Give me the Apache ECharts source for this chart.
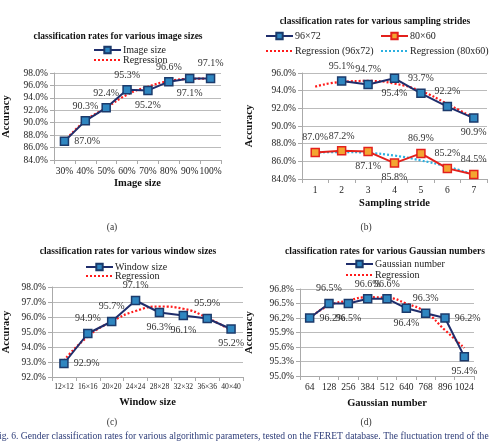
<!DOCTYPE html>
<html>
<head>
<meta charset="utf-8">
<script src="https://cdn.jsdelivr.net/npm/echarts@6/dist/echarts.min.js"></script>
<style>
  html, body { margin: 0; padding: 0; background: #fff; }
</style>
</head>
<body>
<div id="fig6" style="width: 491px; height: 441px"></div>
<script>
// (a) image size
var sizeCats = ['30%', '40%', '50%', '60%', '70%', '80%', '90%', '100%'];
var sizeVals = [87.0, 90.3, 92.4, 95.3, 95.2, 96.6, 97.1, 97.1];
var sizeReg = [87.0, 90.3, 92.4, 94.5, 95.8, 96.7, 97.05, 97.1];
var sizeTicks = [84, 98, 2];

// (b) sampling stride
var strideCats = ['1', '2', '3', '4', '5', '6', '7'];
var stride96 = [null, 95.1, 94.7, 95.4, 93.7, 92.2, 90.9];
var stride80 = [87.0, 87.2, 87.1, 85.8, 86.9, 85.2, 84.5];
var stride96Reg = [94.45, 95.0, 95.1, 94.8, 93.95, 92.5, 90.9];
var stride80Reg = [87.0, 87.05, 86.95, 86.65, 86.1, 85.4, 84.5];
var strideTicks = [84, 96, 2];

// (c) window size
var winCats = ['12×12', '16×16', '20×20', '24×24', '28×28', '32×32', '36×36', '40×40'];
var winVals = [92.9, 94.9, 95.7, 97.1, 96.3, 96.1, 95.9, 95.2];
var winReg = [93.1, 94.7, 95.7, 96.4, 96.7, 96.55, 95.95, 95.1];
var winTicks = [92, 98, 1];

// (d) gaussian number
var gaussCats = ['64', '128', '256', '384', '512', '640', '768', '896', '1024'];
var gaussVals = [96.2, 96.5, 96.5, 96.6, 96.6, 96.4, 96.3, 96.2, 95.4];
var gaussReg = [96.2, 96.46, 96.56, 96.63, 96.62, 96.5, 96.32, 95.95, 95.58];
var gaussTicks = [95.0, 96.8, 0.3];

var serif = '"Liberation Serif", "DejaVu Serif", serif';
var navy = '#1f2d6b';
var red = '#ff1a1a';

var myChart = echarts.init(document.getElementById('fig6'));

// label placement per point: [position, dx, dy]
function labelled (vals, places) {
  return vals.map(function (v, i) {
    if (v == null) return v;
    var p = places[i] || ['top', 0, 0];
    return {
      value: v,
      label: { show: true, position: p[0], offset: [p[1], p[2]] }
    };
  });
}

var blueMark = {
  type: 'line',
  symbol: 'rect',
  symbolSize: 8,
  lineStyle: { color: navy, width: 2 },
  itemStyle: { color: '#2f86c0', borderColor: '#1b3a6b', borderWidth: 1.5 },
  label: {
    formatter: function (p) { return p.value.toFixed(1) + '%'; },
    fontFamily: serif, fontSize: 10, color: '#333'
  },
  labelLayout: { hideOverlap: false },
  z: 3
};

function markSeries (extra) {
  return Object.assign({}, blueMark, extra);
}

function regSeries (name, data, idx, color) {
  return {
    name: name,
    type: 'line',
    smooth: true,
    symbol: 'none',
    data: data,
    xAxisIndex: idx,
    yAxisIndex: idx,
    lineStyle: { color: color || red, width: 2.2, type: [2, 2] },
    itemStyle: { color: color || red },
    z: 2
  };
}

function xAx (idx, cats, name, gap, fs) {
  return {
    gridIndex: idx,
    type: 'category',
    data: cats,
    name: name,
    nameLocation: 'middle',
    nameGap: gap,
    nameTextStyle: { fontFamily: serif, fontWeight: 'bold', fontSize: 10.5, color: '#111' },
    axisLine: { lineStyle: { color: '#aaa' } },
    axisTick: { show: true, length: 4, lineStyle: { color: '#aaa' } },
    axisLabel: { fontFamily: serif, fontSize: fs || 9.5, color: '#222', margin: 6, interval: 0 }
  };
}

function yAx (idx, t, gap) {
  return {
    gridIndex: idx,
    type: 'value',
    min: t[0],
    max: t[1],
    interval: t[2],
    name: 'Accuracy',
    nameLocation: 'middle',
    nameGap: gap,
    nameRotate: 90,
    nameTextStyle: { fontFamily: serif, fontWeight: 'bold', fontSize: 10.5, color: '#111' },
    axisLine: { show: true, lineStyle: { color: '#aaa' } },
    axisTick: { show: true, length: 4, lineStyle: { color: '#aaa' } },
    splitLine: { lineStyle: { color: '#bbb' } },
    axisLabel: {
      fontFamily: serif, fontSize: 9.5, color: '#222', margin: 6,
      formatter: function (v) { return v.toFixed(1) + '%'; }
    }
  };
}

function legendAt (name, left, top, plain) {
  var item = plain ? { name: name, itemStyle: { opacity: 0 } } : name;
  return {
    data: [item],
    left: left,
    top: top,
    itemWidth: 27,
    itemHeight: 8,
    itemGap: 2,
    padding: 0,
    selectedMode: false,
    textStyle: { fontFamily: serif, fontSize: 10, color: '#222', padding: [0, 0, 0, -3] }
  };
}

function gText (text, x, y, size, bold, fill, align) {
  return {
    type: 'text',
    x: x,
    y: y,
    style: {
      text: text,
      font: (bold ? 'bold ' : '') + size + 'px ' + serif,
      fill: fill || '#111',
      textAlign: align || 'center',
      textVerticalAlign: 'middle'
    }
  };
}

var option = {
  backgroundColor: '#fff',
  animation: false,
  textStyle: { fontFamily: serif },
  graphic: [
    gText('classification rates for various image sizes', 118, 37, 9.5, true),
    gText('classification rates for various sampling strides', 375, 22, 9.5, true),
    gText('classification rates for various window sizes', 128, 252, 9.5, true),
    gText('classification rates for various Gaussian numbers', 385, 252, 9.5, true),
    gText('(a)', 112, 227, 9.5, false, '#333'),
    gText('(b)', 366, 227, 9.5, false, '#333'),
    gText('(c)', 112, 422, 9.5, false, '#333'),
    gText('(d)', 366, 422, 9.5, false, '#333'),
    gText('ig. 6. Gender classification rates for various algorithmic parameters, tested on the FERET database. The fluctuation trend of the',
      -1, 436, 9.6, false, '#2d3c78', 'left')
  ],
  legend: [
    legendAt('Image size', 93, 45),
    legendAt('Regression', 93, 55, true),
    legendAt('96×72', 265, 31),
    legendAt('80×60', 380, 31),
    legendAt('Regression (96x72)', 265, 46, true),
    legendAt('Regression (80x60)', 380, 46, true),
    legendAt('Window size', 85, 262),
    legendAt('Regression', 85, 271, true),
    legendAt('Gaussian number', 345, 259),
    legendAt('Regression', 345, 270, true)
  ],
  grid: [
    { left: 52, top: 73, width: 169, height: 87 },
    { left: 302, top: 73, width: 185, height: 106 },
    { left: 43, top: 287, width: 200, height: 90 },
    { left: 300, top: 289, width: 174, height: 87 }
  ],
  xAxis: [
    xAx(0, sizeCats, 'Image size', 18),
    xAx(1, strideCats, 'Sampling stride', 19),
    xAx(2, winCats, 'Window size', 20, 7.6),
    xAx(3, gaussCats, 'Gaussian number', 22)
  ],
  yAxis: [
    yAx(0, sizeTicks, 42),
    yAx(1, strideTicks, 47),
    yAx(2, winTicks, 40),
    yAx(3, gaussTicks, 45)
  ],
  series: [
    regSeries('Regression', sizeReg, 0),
    markSeries({
      name: 'Image size', xAxisIndex: 0, yAxisIndex: 0,
      data: labelled(sizeVals, [
        ['right', -2, 6], ['top', -8, 3], ['top', -8, 0], ['top', 0, 0],
        ['bottom', 4, 2], ['top', -2, 0], ['bottom', 5, 2], ['top', 3, 0]
      ])
    }),

    regSeries('Regression (96x72)', stride96Reg, 1),
    regSeries('Regression (80x60)', stride80Reg, 1, '#2bb0e0'),
    markSeries({
      name: '96×72', xAxisIndex: 1, yAxisIndex: 1,
      data: labelled(stride96, [
        null, ['top', 0, 0], ['top', 0, 0], ['bottom', -2, -2],
        ['top', 4, 0], ['top', 5, 0], ['bottom', 2, 0]
      ])
    }),
    markSeries({
      name: '80×60', xAxisIndex: 1, yAxisIndex: 1,
      lineStyle: { color: '#e3201c', width: 2 },
      itemStyle: { color: '#f3a531', borderColor: '#e3201c', borderWidth: 1.5 },
      data: labelled(stride80, [
        ['top', 0, 0], ['top', 0, 0], ['bottom', 0, 0], ['bottom', 0, 0],
        ['top', 0, 0], ['top', 0, 0], ['top', -3, 0]
      ])
    }),

    regSeries('Regression', winReg, 2),
    markSeries({
      name: 'Window size', xAxisIndex: 2, yAxisIndex: 2,
      data: labelled(winVals, [
        ['right', 2, 0], ['top', -4, 0], ['top', -6, 0], ['top', 2, 0],
        ['bottom', 0, 0], ['bottom', 2, 0], ['top', 7, 0], ['bottom', 2, 0]
      ])
    }),

    regSeries('Regression', gaussReg, 3),
    markSeries({
      name: 'Gaussian number', xAxisIndex: 3, yAxisIndex: 3,
      data: labelled(gaussVals, [
        ['right', 0, 2], ['top', -2, 0], ['bottom', 0, 14], ['top', -2, 0],
        ['top', 6, 0], ['bottom', 0, 0], ['top', 2, 0], ['right', 2, 0], ['bottom', 2, 0]
      ])
    })
  ]
};

myChart.setOption(option);
</script>
</body>
</html>
